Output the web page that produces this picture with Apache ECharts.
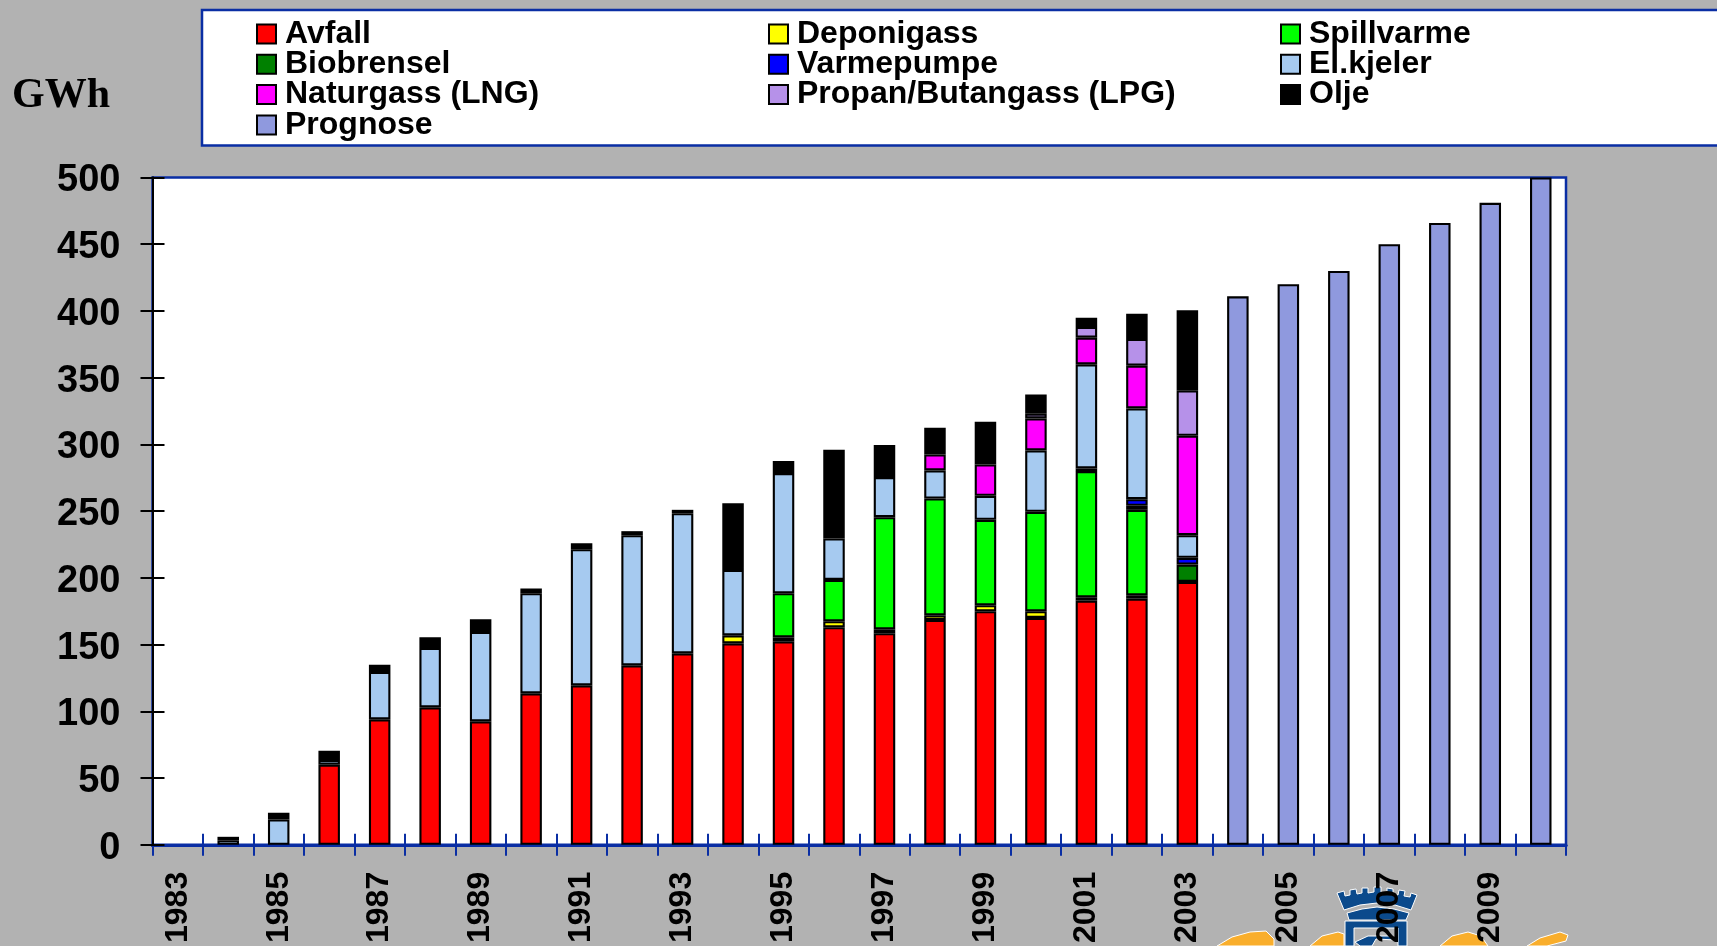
<!DOCTYPE html>
<html>
<head>
<meta charset="utf-8">
<style>html,body{margin:0;padding:0;background:#b2b2b2;overflow:hidden}#chart{width:1717px;height:946px}</style>
<script src="https://cdn.jsdelivr.net/npm/echarts@6/dist/echarts.min.js"></script>
</head>
<body>
<div id="chart"></div>
<script>
// Fjernvarme: energy delivered per source, 1983-2003, with forecast to 2010 (GWh)
const years = ['1983','1984','1985','1986','1987','1988','1989','1990','1991','1992','1993','1994','1995','1996','1997','1998','1999','2000','2001','2002','2003','2004','2005','2006','2007','2008','2009','2010'];
const avfall     = [null,null,null,60,94,103,92.5,113.5,119.5,134.5,143.5,151,152.5,163,158.5,168.5,175,170,183,184.5,197,null,null,null,null,null,null,null];
const deponigass = [null,null,null,null,null,null,null,null,null,null,null,6,3,4.5,3,3.5,4.5,5,2.5,2.5,null,null,null,null,null,null,null,null];
const spillvarme = [null,null,null,null,null,null,null,null,null,null,null,null,33,31,84,87.5,64,74.5,94.5,64,null,null,null,null,null,null,null,null];
const biobrensel = [null,null,null,null,null,null,null,null,null,null,null,null,null,null,null,null,null,null,null,3,13,null,null,null,null,null,null,null];
const varmepumpe = [null,null,null,null,null,null,null,null,null,null,null,null,null,null,null,null,null,null,2,5,5,null,null,null,null,null,null,null];
const elkjeler   = [null,3.5,19,3.5,35.5,44.5,67,75,102,97.5,105,49,90,31,30,21,18,46,78,68,17,null,null,null,null,null,null,null];
const naturgass  = [null,null,null,null,null,null,null,null,null,null,null,null,null,null,null,12,23.5,24,20,32,74.5,null,null,null,null,null,null,null];
const lpg        = [null,null,null,null,null,null,null,null,null,null,null,null,null,null,null,null,null,3.5,8,20,34,null,null,null,null,null,null,null];
const olje       = [null,2.5,5,7,5.5,8,9.5,3.5,4.5,3,2.5,50,9,66.5,24,20,32,14.5,7,19,60,null,null,null,null,null,null,null];
const prognose   = [null,null,null,null,null,null,null,null,null,null,null,null,null,null,null,null,null,null,null,null,null,411,420,430,450,466,481,500];

const legendColumns = [
  ['Avfall','Biobrensel','Naturgass (LNG)','Prognose'],
  ['Deponigass','Varmepumpe','Propan/Butangass (LPG)'],
  ['Spillvarme','El.kjeler','Olje']
];

const BLUE = '#0a2ea4';
const sans = '"Liberation Sans", Arial, sans-serif';

const seriesDefs = [
  ['Avfall', avfall, '#ff0000'],
  ['Deponigass', deponigass, '#ffff00'],
  ['Spillvarme', spillvarme, '#00ff00'],
  ['Biobrensel', biobrensel, '#008000'],
  ['Varmepumpe', varmepumpe, '#0000ff'],
  ['El.kjeler', elkjeler, '#a6caf0'],
  ['Naturgass (LNG)', naturgass, '#ff00ff'],
  ['Propan/Butangass (LPG)', lpg, '#b691e9'],
  ['Olje', olje, '#000000'],
  ['Prognose', prognose, '#8f99de']
];

const chart = echarts.init(document.getElementById('chart'), null, {renderer: 'canvas'});

// Ticks cross each axis line, so each direction gets its own overlaid axis.
function crossingXAxis(inside, labelled) {
  return {
    type: 'category', data: years, position: 'bottom',
    axisLine: {show: true, lineStyle: {color: BLUE, width: 3}},
    axisTick: {show: true, inside: inside, length: 11, interval: 0, alignWithLabel: false, lineStyle: {color: BLUE, width: 2}},
    axisLabel: labelled ? {show: true, interval: 1, rotate: 90, margin: 27, color: '#000', fontFamily: sans, fontWeight: 'bold', fontSize: 32} : {show: false},
    splitLine: {show: false}
  };
}
function crossingYAxis(inside, labelled) {
  return {
    type: 'value', min: 0, max: 500, interval: 50, position: 'left', z: 1,
    axisLine: {show: true, lineStyle: {color: '#000', width: 2}},
    axisTick: {show: true, inside: inside, length: 12, lineStyle: {color: '#000', width: 2}},
    axisLabel: labelled ? {
      show: true, margin: 32, formatter: '{n|{value}}',
      rich: {n: {fontFamily: sans, fontWeight: 'bold', fontSize: 38, color: '#000', padding: [7, 0, 0, 0]}}
    } : {show: false},
    splitLine: {show: false}
  };
}

const logoNavy = '#0b4a8c', logoOrange = '#f9ae2c';
const logoShapes = [
  // crest: crown, bands and shield
  {fill: logoNavy, points: [[1337,893],[1344,891],[1345,896],[1350,895],[1350,890],[1356,889],[1357,894],[1362,893],[1362,888],[1368,888],[1368,893],[1374,892],[1374,887],[1381,887],[1381,892],[1387,893],[1387,888],[1393,889],[1393,894],[1398,895],[1399,890],[1405,891],[1404,896],[1410,897],[1411,893],[1417,895],[1411,910],[1395,905],[1377,903],[1360,905],[1344,910]]},
  {fill: logoNavy, points: [[1347,913],[1362,909],[1377,907],[1394,909],[1409,913],[1406,920],[1349,920]]},
  {fill: logoNavy, points: [[1345,921],[1407,921],[1407,946],[1398,946],[1398,928],[1354,928],[1354,946],[1345,946]]},
  {fill: logoNavy, points: [[1355,942],[1368,936],[1392,936],[1396,940],[1376,939],[1372,946],[1360,946]]},
  // orange script strokes running off the bottom edge
  {fill: logoOrange, points: [[1217,946],[1232,937],[1250,932],[1266,931],[1274,939],[1274,946]]},
  {fill: logoOrange, points: [[1310,946],[1322,936],[1338,932],[1344,934],[1344,946]]},
  {fill: logoOrange, points: [[1440,946],[1452,936],[1468,932],[1481,936],[1488,946]]},
  {fill: logoOrange, points: [[1527,946],[1540,938],[1560,932],[1568,935],[1566,941],[1547,946]]}
];

chart.setOption({
  animation: false,
  backgroundColor: '#b2b2b2',
  title: {text: 'GWh', left: 7, top: 70, textStyle: {fontFamily: '"Liberation Serif", "Times New Roman", serif', fontWeight: 'bold', fontSize: 42, color: '#000'}},
  grid: {left: 152.5, top: 177.5, width: 1413.5, height: 668.2, show: true, backgroundColor: '#fff', borderColor: BLUE, borderWidth: 2.5},
  legend: legendColumns.map((names, i) => ({
    data: names, orient: 'vertical', left: [256, 768, 1280][i], top: 18,
    icon: 'rect', itemWidth: 19, itemHeight: 19, itemGap: -1.7, selectedMode: false, padding: 0,
    textStyle: {fontFamily: sans, fontWeight: 'bold', fontSize: 32, color: '#000', lineHeight: 30, padding: [0, 0, 0, 4]}
  })),
  xAxis: [crossingXAxis(false, true), crossingXAxis(true, false)],
  yAxis: [crossingYAxis(false, true), crossingYAxis(true, false)],
  series: seriesDefs.map(([name, values, color]) => ({
    name, type: 'bar', stack: 'total', data: values, barWidth: 21.5,
    xAxisIndex: 0, yAxisIndex: 0,
    itemStyle: {color, borderColor: '#000', borderWidth: 2.1}
  })).concat([{
    // empty series that keeps the overlaid axes in the coordinate system
    name: 'ticks', type: 'bar', data: [], xAxisIndex: 1, yAxisIndex: 1
  }]),
  graphic: [
    {type: 'rect', z: -1, shape: {x: 202, y: 10, width: 1600, height: 135.5}, style: {fill: '#fff', stroke: BLUE, lineWidth: 2.5}}
  ].concat(logoShapes.map(p => ({
    type: 'polygon', z: -1, shape: {points: p.points},
    style: {fill: p.fill, stroke: '#fff', lineWidth: 1}
  })))
});
</script>
</body>
</html>
